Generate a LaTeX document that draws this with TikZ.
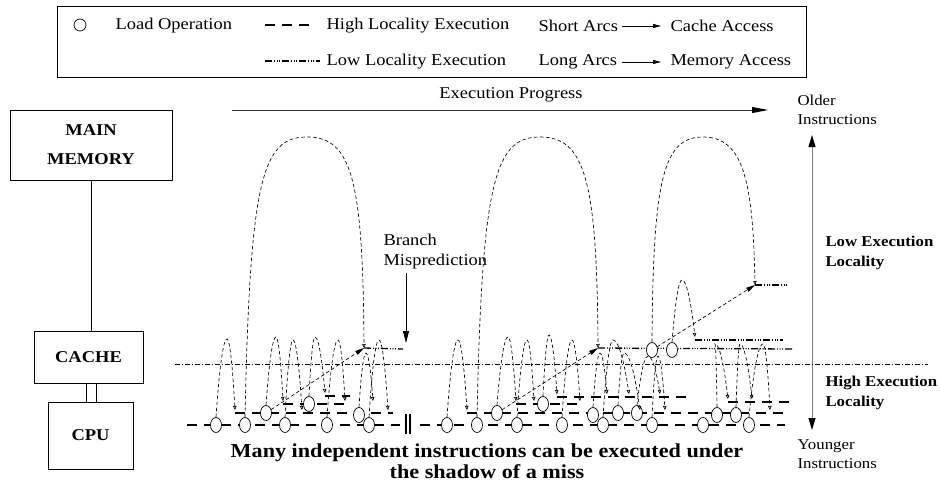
\documentclass[tikz,border=0pt]{standalone}
\usepackage{amsmath}
\usepackage{fontspec}
\setmainfont{Liberation Serif}[FakeStretch=1.12]
\usetikzlibrary{arrows.meta,shapes.geometric}

\begin{document}
\begin{tikzpicture}[x=1pt,y=-1pt,font=\fontsize{16.5}{20}\selectfont,
  bold/.style={font=\fontsize{16.5}{20}\selectfont\bfseries},
  side/.style={anchor=west,align=left,font=\fontsize{15}{19.5}\selectfont},
  box/.style={draw,line width=0.8pt,bold,align=center},
  load/.style={draw,ellipse,fill=white,line width=0.7pt,minimum width=11pt,minimum height=15pt,inner sep=0pt},
  hiloc/.style={line width=1.7pt,dash pattern=on 10pt off 7pt},
  loloc/.style={line width=1.3pt,dash pattern=on 7pt off 2pt on 1pt off 1.5pt on 1pt off 1.5pt on 1pt off 2pt},
  arcln/.style={line width=0.65pt,dash pattern=on 3.5pt off 2.5pt},
  hop/.style={arcln,-{Triangle[open,length=4pt,width=3.5pt]}},
  jump/.style={arcln,-{Triangle[length=9pt,width=4.5pt]}},
  fat/.style={line width=0.8pt,-{Triangle[length=12pt,width=6pt]}},
  divider/.style={line width=0.5pt,dash pattern=on 5pt off 2pt on 1pt off 2pt}]
\useasboundingbox (0,0) rectangle (940,493);

%%%%%%%%%%%%%% legend
\node[draw,line width=0.6pt,minimum width=749pt,minimum height=71pt] (lg) at (431.5,41.5) {};
\node[load,minimum width=12pt,minimum height=12pt] (lgo) at (80,25) {};\node[anchor=west] (lgl) at (112,26) {Load Operation};
\draw[hiloc] (265,25) to (311,25);\node[anchor=west] (lgh) at (323,26) {High Locality Execution};
\draw[loloc] (265,61) to (320,61);\node[anchor=west] (lgw) at (323,62) {Low Locality Execution};
\node[anchor=west] (lgs) at (535,26) {Short Arcs};\node[anchor=west] (lgc) at (667,26) {Cache Access};
\node[anchor=west] (lgn) at (535,62) {Long Arcs};\node[anchor=west] (lgm) at (667,62) {Memory Access};
\draw[line width=0.7pt,-{Triangle[length=8pt,width=4pt]},shorten >=6pt] (lgs.east) to (lgc.west);
\draw[line width=0.7pt,-{Triangle[length=8pt,width=4pt]},shorten >=6pt] (lgs.east |- lgn.east) to (lgm.west);

%%%%%%%%%%%%%% memory hierarchy
\node[box,minimum width=162pt,minimum height=70pt] (mem) at (91,145) {MAIN\\[9pt]MEMORY};
\node[box,minimum width=109pt,minimum height=52pt] (cache) at (88.5,357) {CACHE};
\node[box,minimum width=85pt,minimum height=67pt] (cpu) at (90.5,435.5) {CPU};
\draw[line width=0.8pt] (mem.south) to (mem.south |- cache.north);
\draw[line width=0.8pt] ([xshift=-2.5pt]cache.south) to ([xshift=-2.5pt]cache.south |- cpu.north);
\draw[line width=0.8pt] ([xshift=7.5pt]cache.south) to ([xshift=7.5pt]cache.south |- cpu.north);

%%%%%%%%%%%%%% axes and labels
\node (ep) at (511,95) {Execution Progress};
\coordinate (eps) at (232,110);\coordinate (epe) at (768,110);
\draw[black!80,line width=0.8pt,-{Triangle[length=16pt,width=6pt,color=black]}] (eps) to (epe);
\node[side] (old) at (794,110) {Older\\Instructions};
\node[side] (yng) at (794,454) {Younger\\Instructions};
\node[side,font=\fontsize{15}{19.5}\selectfont\bfseries] (lowl) at (822,253) {Low Execution\\Locality};
\node[side,font=\fontsize{15}{19.5}\selectfont\bfseries] (highl) at (822,393) {High Execution\\Locality};
\coordinate (otop) at (812,135);\coordinate (obot) at (812,430);
\draw[gray,line width=1pt,{Triangle[length=12pt,width=7pt,color=black]}-{Triangle[length=12pt,width=7pt,color=black]}] (otop) to (obot);
\node[anchor=west,align=left] (bm) at (380,252) {Branch\\Misprediction};
\coordinate (bmtip) at (406,343);
\draw[fat] (bm.south -| bmtip) to (bmtip);
\node[align=center,font=\fontsize{19.8}{21}\selectfont\bfseries] (shadow) at (487,461) {Many independent instructions can be executed under\\the shadow of a miss};
\draw[divider] (175,364) to (928,364);

%%%%%%%%%%%%%% execution levels
\draw[hiloc] (187,425) to (400,425);\draw[hiloc] (420,425) to (785,425);
\draw[hiloc] (235,413) to (393,413);\draw[hiloc] (467,413) to (790,413);
\draw[hiloc] (283,404) to (350,404);\draw[hiloc] (516,404) to (582,404);
\draw[hiloc] (325,396) to (350,396);\draw[hiloc] (557,397) to (690,397);\draw[hiloc] (728,402) to (792,402);
\draw[line width=2pt] (406,414) to (406,434);\draw[line width=2pt] (410,414) to (410,434);
\coordinate (br1) at (364,348);\coordinate (br2) at (598,348);\coordinate (br3) at (755,285);
\draw[loloc] (br1) to (403,349);\draw[loloc] (br2) to (792,349);
\draw[loloc] (695,340) to (783,340);\draw[loloc] (br3) to (787,285);

%%%%%%%%%%%%%% loads
\node[load] (a1) at (216,425) {};\node[load] (a2) at (245,425) {};\node[load] (a3) at (266,413) {};
\node[load] (a4) at (285,425) {};\node[load] (a5) at (309,404) {};\node[load] (a6) at (327,425) {};
\node[load] (a7) at (359,415) {};\node[load] (a8) at (369,425) {};
\node[load] (b1) at (447,425) {};\node[load] (b2) at (477,425) {};\node[load] (b3) at (497,413) {};
\node[load] (b4) at (517,425) {};\node[load] (b5) at (543,404) {};\node[load] (b6) at (562,425) {};
\node[load] (b7) at (593,415) {};\node[load] (b8) at (603,425) {};\node[load] (b9) at (618,413) {};
\node[load] (b10) at (637,413) {};\node[load] (b11) at (652,425) {};
\node[load] (u1) at (652,350) {};\node[load] (u2) at (672,350) {};
\node[load] (c1) at (703,425) {};\node[load] (c2) at (717,415) {};\node[load] (c3) at (736,415) {};\node[load] (c4) at (749,425) {};

%%%%%%%%%%%%%% short arcs: cache access
\draw[hop] (a1.north) parabola bend (227,339) (235,410);\draw[hop] (a3.north) parabola bend (276,337) (283,401);
\draw[hop] (a4.north) parabola bend (293,340) (302,410);\draw[hop] (a5.north) parabola bend (315,337) (325,393);
\draw[hop] (a6.north) parabola bend (338,340) (345,401);\draw[hop] (a7.north) parabola bend (366,353) (373,401);
\draw[hop] (a8.north) parabola bend (379,340) (388,410);
\draw[hop] (b1.north) parabola bend (458,340) (467,410);\draw[hop] (b3.north) parabola bend (508,337) (516,401);
\draw[hop] (b4.north) parabola bend (527,340) (534,401);\draw[hop] (b5.north) parabola bend (549,335) (557,394);
\draw[hop] (b6.north) parabola bend (572,340) (580,401);\draw[hop] (b7.north) parabola bend (600,353) (607,394);
\draw[hop] (b8.north) parabola bend (613,340) (629,394);\draw[hop] (b9.north) parabola bend (624,353) (640,410);
\draw[hop] (b10.north) parabola bend (648,356) (660,394);\draw[hop] (b11.north) parabola bend (658,356) (665,410);
\draw[hop] (u2.north) parabola bend (682,280) (695,337);
\draw[hop] (c2.north) parabola bend (715,344) (728,399);\draw[hop] (c3.north) parabola bend (740,344) (752,399);
\draw[hop] (c4.north) parabola bend (763,344) (770,410);

%%%%%%%%%%%%%% long arcs: memory access
\draw[hop] (a2.north) .. controls (250,180) and (262,137) .. (307,137) .. controls (352,137) and (363,180) .. (br1);
\draw[hop] (b2.north) .. controls (482,180) and (495,137) .. (540,137) .. controls (585,137) and (597,180) .. (br2);
\draw[hop] (u1.north) .. controls (653,180) and (663,137) .. (703,137) .. controls (743,137) and (753,180) .. (br3);
\draw[jump] (a3) to (br1);\draw[jump] (b3) to (br2);\draw[jump] (u1) to (br3);

\end{tikzpicture}
\end{document}
